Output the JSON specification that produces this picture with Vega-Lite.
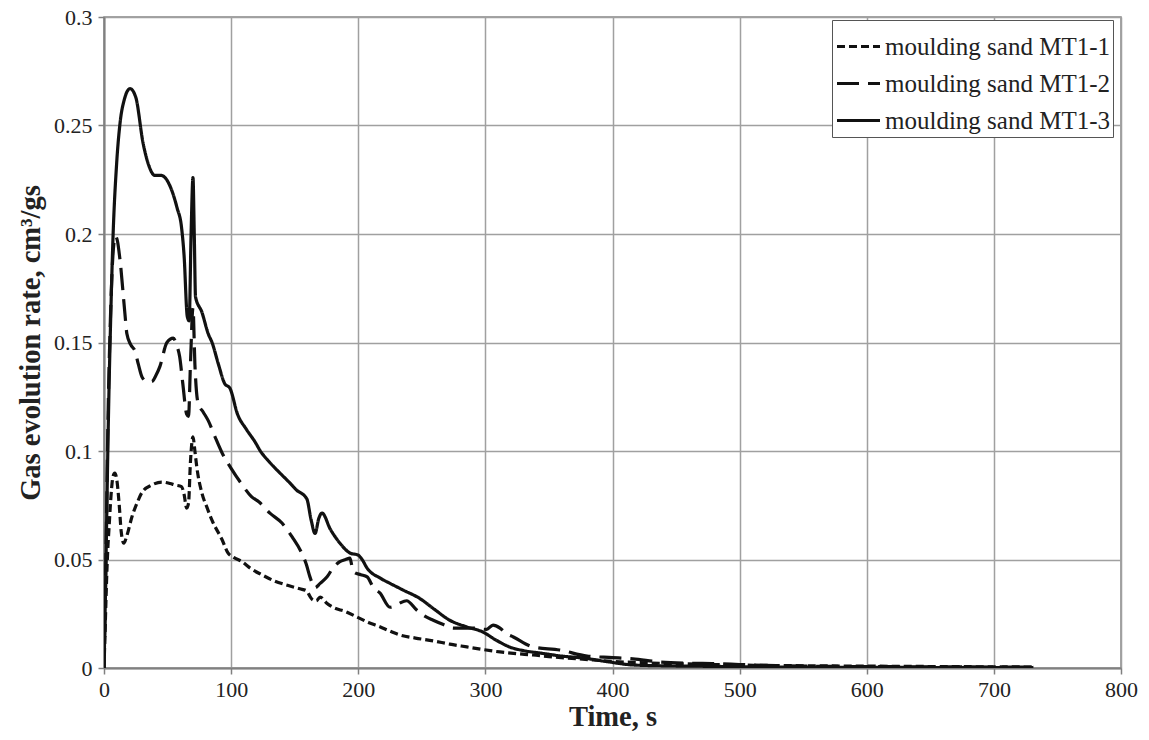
{
  "$schema": "https://vega.github.io/schema/vega-lite/v6.json",
  "width": 1017,
  "height": 651,
  "autosize": {"type": "none"},
  "padding": {"left": 104, "top": 17, "right": 28, "bottom": 72},
  "background": "white",
  "config": {
    "font": "Liberation Serif",
    "view": {"stroke": "#888", "strokeWidth": 1.5},
    "axis": {
      "labelFont": "Liberation Serif",
      "labelFontSize": 22,
      "labelColor": "#222",
      "titleFont": "Liberation Serif",
      "titleFontSize": 28.5,
      "titleFontWeight": "bold",
      "titleColor": "#222",
      "gridColor": "#a0a0a0",
      "gridWidth": 1.5,
      "gridOpacity": 1,
      "domainColor": "#808080",
      "domainWidth": 2,
      "tickColor": "#808080",
      "tickWidth": 1.5,
      "tickSize": 6
    },
    "legend": {
      "labelFont": "Liberation Serif",
      "labelFontSize": 25,
      "labelColor": "#222",
      "labelLimit": 0
    }
  },
  "datasets": {
    "rates": [
      {"t": 0, "r": 0, "s": "moulding sand MT1-1"},
      {"t": 1, "r": 0.02, "s": "moulding sand MT1-1"},
      {"t": 2, "r": 0.04, "s": "moulding sand MT1-1"},
      {"t": 3, "r": 0.055, "s": "moulding sand MT1-1"},
      {"t": 4, "r": 0.065, "s": "moulding sand MT1-1"},
      {"t": 5, "r": 0.075, "s": "moulding sand MT1-1"},
      {"t": 6, "r": 0.083, "s": "moulding sand MT1-1"},
      {"t": 7, "r": 0.088, "s": "moulding sand MT1-1"},
      {"t": 8.5, "r": 0.0898, "s": "moulding sand MT1-1"},
      {"t": 10, "r": 0.087, "s": "moulding sand MT1-1"},
      {"t": 12, "r": 0.075, "s": "moulding sand MT1-1"},
      {"t": 13.5, "r": 0.063, "s": "moulding sand MT1-1"},
      {"t": 15.6, "r": 0.0575, "s": "moulding sand MT1-1"},
      {"t": 18, "r": 0.061, "s": "moulding sand MT1-1"},
      {"t": 22, "r": 0.0697, "s": "moulding sand MT1-1"},
      {"t": 26, "r": 0.076, "s": "moulding sand MT1-1"},
      {"t": 30, "r": 0.081, "s": "moulding sand MT1-1"},
      {"t": 37.5, "r": 0.0843, "s": "moulding sand MT1-1"},
      {"t": 45.5, "r": 0.0857, "s": "moulding sand MT1-1"},
      {"t": 52, "r": 0.085, "s": "moulding sand MT1-1"},
      {"t": 56, "r": 0.0843, "s": "moulding sand MT1-1"},
      {"t": 61, "r": 0.0836, "s": "moulding sand MT1-1"},
      {"t": 63, "r": 0.08, "s": "moulding sand MT1-1"},
      {"t": 65, "r": 0.0737, "s": "moulding sand MT1-1"},
      {"t": 66.5, "r": 0.076, "s": "moulding sand MT1-1"},
      {"t": 68, "r": 0.095, "s": "moulding sand MT1-1"},
      {"t": 70, "r": 0.1065, "s": "moulding sand MT1-1"},
      {"t": 71.5, "r": 0.1, "s": "moulding sand MT1-1"},
      {"t": 73, "r": 0.0926, "s": "moulding sand MT1-1"},
      {"t": 77, "r": 0.0806, "s": "moulding sand MT1-1"},
      {"t": 81, "r": 0.074, "s": "moulding sand MT1-1"},
      {"t": 85, "r": 0.068, "s": "moulding sand MT1-1"},
      {"t": 93, "r": 0.059, "s": "moulding sand MT1-1"},
      {"t": 97.5, "r": 0.053, "s": "moulding sand MT1-1"},
      {"t": 102, "r": 0.051, "s": "moulding sand MT1-1"},
      {"t": 108.5, "r": 0.049, "s": "moulding sand MT1-1"},
      {"t": 115, "r": 0.046, "s": "moulding sand MT1-1"},
      {"t": 124, "r": 0.043, "s": "moulding sand MT1-1"},
      {"t": 134.5, "r": 0.04, "s": "moulding sand MT1-1"},
      {"t": 145, "r": 0.038, "s": "moulding sand MT1-1"},
      {"t": 154, "r": 0.0365, "s": "moulding sand MT1-1"},
      {"t": 159.5, "r": 0.0355, "s": "moulding sand MT1-1"},
      {"t": 162, "r": 0.033, "s": "moulding sand MT1-1"},
      {"t": 164.5, "r": 0.0313, "s": "moulding sand MT1-1"},
      {"t": 167, "r": 0.031, "s": "moulding sand MT1-1"},
      {"t": 170, "r": 0.0327, "s": "moulding sand MT1-1"},
      {"t": 175, "r": 0.03, "s": "moulding sand MT1-1"},
      {"t": 180, "r": 0.028, "s": "moulding sand MT1-1"},
      {"t": 190, "r": 0.026, "s": "moulding sand MT1-1"},
      {"t": 199, "r": 0.0235, "s": "moulding sand MT1-1"},
      {"t": 208, "r": 0.021, "s": "moulding sand MT1-1"},
      {"t": 217, "r": 0.019, "s": "moulding sand MT1-1"},
      {"t": 225, "r": 0.017, "s": "moulding sand MT1-1"},
      {"t": 233, "r": 0.0152, "s": "moulding sand MT1-1"},
      {"t": 245, "r": 0.0138, "s": "moulding sand MT1-1"},
      {"t": 259, "r": 0.0125, "s": "moulding sand MT1-1"},
      {"t": 272, "r": 0.011, "s": "moulding sand MT1-1"},
      {"t": 285.5, "r": 0.0097, "s": "moulding sand MT1-1"},
      {"t": 298, "r": 0.0085, "s": "moulding sand MT1-1"},
      {"t": 311.5, "r": 0.0074, "s": "moulding sand MT1-1"},
      {"t": 325, "r": 0.0066, "s": "moulding sand MT1-1"},
      {"t": 337.5, "r": 0.006, "s": "moulding sand MT1-1"},
      {"t": 350, "r": 0.0052, "s": "moulding sand MT1-1"},
      {"t": 364, "r": 0.0046, "s": "moulding sand MT1-1"},
      {"t": 385, "r": 0.0037, "s": "moulding sand MT1-1"},
      {"t": 400, "r": 0.003, "s": "moulding sand MT1-1"},
      {"t": 420, "r": 0.0025, "s": "moulding sand MT1-1"},
      {"t": 450, "r": 0.002, "s": "moulding sand MT1-1"},
      {"t": 480, "r": 0.0016, "s": "moulding sand MT1-1"},
      {"t": 520, "r": 0.0012, "s": "moulding sand MT1-1"},
      {"t": 560, "r": 0.001, "s": "moulding sand MT1-1"},
      {"t": 620, "r": 0.0008, "s": "moulding sand MT1-1"},
      {"t": 680, "r": 0.0006, "s": "moulding sand MT1-1"},
      {"t": 731, "r": 0.0005, "s": "moulding sand MT1-1"},

      {"t": 0, "r": 0, "s": "moulding sand MT1-2"},
      {"t": 1, "r": 0.03, "s": "moulding sand MT1-2"},
      {"t": 2, "r": 0.07, "s": "moulding sand MT1-2"},
      {"t": 3, "r": 0.11, "s": "moulding sand MT1-2"},
      {"t": 5, "r": 0.16, "s": "moulding sand MT1-2"},
      {"t": 7, "r": 0.19, "s": "moulding sand MT1-2"},
      {"t": 9, "r": 0.199, "s": "moulding sand MT1-2"},
      {"t": 10.5, "r": 0.197, "s": "moulding sand MT1-2"},
      {"t": 12.6, "r": 0.188, "s": "moulding sand MT1-2"},
      {"t": 16.5, "r": 0.163, "s": "moulding sand MT1-2"},
      {"t": 18, "r": 0.154, "s": "moulding sand MT1-2"},
      {"t": 21, "r": 0.149, "s": "moulding sand MT1-2"},
      {"t": 24.4, "r": 0.146, "s": "moulding sand MT1-2"},
      {"t": 27, "r": 0.14, "s": "moulding sand MT1-2"},
      {"t": 30, "r": 0.134, "s": "moulding sand MT1-2"},
      {"t": 34, "r": 0.132, "s": "moulding sand MT1-2"},
      {"t": 37.5, "r": 0.132, "s": "moulding sand MT1-2"},
      {"t": 41, "r": 0.135, "s": "moulding sand MT1-2"},
      {"t": 44, "r": 0.139, "s": "moulding sand MT1-2"},
      {"t": 49.5, "r": 0.15, "s": "moulding sand MT1-2"},
      {"t": 54.5, "r": 0.152, "s": "moulding sand MT1-2"},
      {"t": 57, "r": 0.149, "s": "moulding sand MT1-2"},
      {"t": 59.5, "r": 0.1435, "s": "moulding sand MT1-2"},
      {"t": 62, "r": 0.131, "s": "moulding sand MT1-2"},
      {"t": 65, "r": 0.117, "s": "moulding sand MT1-2"},
      {"t": 66.5, "r": 0.116, "s": "moulding sand MT1-2"},
      {"t": 68, "r": 0.14, "s": "moulding sand MT1-2"},
      {"t": 70, "r": 0.166, "s": "moulding sand MT1-2"},
      {"t": 71.5, "r": 0.14, "s": "moulding sand MT1-2"},
      {"t": 74, "r": 0.122, "s": "moulding sand MT1-2"},
      {"t": 78, "r": 0.118, "s": "moulding sand MT1-2"},
      {"t": 82, "r": 0.114, "s": "moulding sand MT1-2"},
      {"t": 87, "r": 0.107, "s": "moulding sand MT1-2"},
      {"t": 93, "r": 0.099, "s": "moulding sand MT1-2"},
      {"t": 100, "r": 0.092, "s": "moulding sand MT1-2"},
      {"t": 108, "r": 0.085, "s": "moulding sand MT1-2"},
      {"t": 116, "r": 0.079, "s": "moulding sand MT1-2"},
      {"t": 122, "r": 0.0765, "s": "moulding sand MT1-2"},
      {"t": 130.5, "r": 0.0714, "s": "moulding sand MT1-2"},
      {"t": 140, "r": 0.0668, "s": "moulding sand MT1-2"},
      {"t": 148, "r": 0.0604, "s": "moulding sand MT1-2"},
      {"t": 155.5, "r": 0.053, "s": "moulding sand MT1-2"},
      {"t": 159, "r": 0.048, "s": "moulding sand MT1-2"},
      {"t": 162, "r": 0.042, "s": "moulding sand MT1-2"},
      {"t": 166, "r": 0.037, "s": "moulding sand MT1-2"},
      {"t": 170, "r": 0.039, "s": "moulding sand MT1-2"},
      {"t": 175.5, "r": 0.042, "s": "moulding sand MT1-2"},
      {"t": 180, "r": 0.046, "s": "moulding sand MT1-2"},
      {"t": 185.5, "r": 0.049, "s": "moulding sand MT1-2"},
      {"t": 190, "r": 0.05, "s": "moulding sand MT1-2"},
      {"t": 193.5, "r": 0.0506, "s": "moulding sand MT1-2"},
      {"t": 195, "r": 0.047, "s": "moulding sand MT1-2"},
      {"t": 197, "r": 0.044, "s": "moulding sand MT1-2"},
      {"t": 202, "r": 0.043, "s": "moulding sand MT1-2"},
      {"t": 207, "r": 0.042, "s": "moulding sand MT1-2"},
      {"t": 212, "r": 0.037, "s": "moulding sand MT1-2"},
      {"t": 217, "r": 0.0346, "s": "moulding sand MT1-2"},
      {"t": 225, "r": 0.028, "s": "moulding sand MT1-2"},
      {"t": 230, "r": 0.029, "s": "moulding sand MT1-2"},
      {"t": 233, "r": 0.03, "s": "moulding sand MT1-2"},
      {"t": 238, "r": 0.031, "s": "moulding sand MT1-2"},
      {"t": 246, "r": 0.0267, "s": "moulding sand MT1-2"},
      {"t": 252, "r": 0.024, "s": "moulding sand MT1-2"},
      {"t": 259, "r": 0.022, "s": "moulding sand MT1-2"},
      {"t": 267, "r": 0.02, "s": "moulding sand MT1-2"},
      {"t": 275, "r": 0.0184, "s": "moulding sand MT1-2"},
      {"t": 290, "r": 0.0184, "s": "moulding sand MT1-2"},
      {"t": 301, "r": 0.0178, "s": "moulding sand MT1-2"},
      {"t": 306, "r": 0.0198, "s": "moulding sand MT1-2"},
      {"t": 311.5, "r": 0.0184, "s": "moulding sand MT1-2"},
      {"t": 316, "r": 0.016, "s": "moulding sand MT1-2"},
      {"t": 322, "r": 0.0143, "s": "moulding sand MT1-2"},
      {"t": 337.5, "r": 0.0097, "s": "moulding sand MT1-2"},
      {"t": 358.5, "r": 0.0083, "s": "moulding sand MT1-2"},
      {"t": 380, "r": 0.0055, "s": "moulding sand MT1-2"},
      {"t": 400, "r": 0.0048, "s": "moulding sand MT1-2"},
      {"t": 416, "r": 0.0042, "s": "moulding sand MT1-2"},
      {"t": 437, "r": 0.0028, "s": "moulding sand MT1-2"},
      {"t": 460, "r": 0.0022, "s": "moulding sand MT1-2"},
      {"t": 480, "r": 0.002, "s": "moulding sand MT1-2"},
      {"t": 500, "r": 0.0016, "s": "moulding sand MT1-2"},
      {"t": 520, "r": 0.0012, "s": "moulding sand MT1-2"},
      {"t": 560, "r": 0.0008, "s": "moulding sand MT1-2"},
      {"t": 620, "r": 0.0006, "s": "moulding sand MT1-2"},
      {"t": 680, "r": 0.0005, "s": "moulding sand MT1-2"},
      {"t": 731, "r": 0.0004, "s": "moulding sand MT1-2"},

      {"t": 0, "r": 0, "s": "moulding sand MT1-3"},
      {"t": 1, "r": 0.03, "s": "moulding sand MT1-3"},
      {"t": 2, "r": 0.065, "s": "moulding sand MT1-3"},
      {"t": 3, "r": 0.1, "s": "moulding sand MT1-3"},
      {"t": 4, "r": 0.13, "s": "moulding sand MT1-3"},
      {"t": 5, "r": 0.155, "s": "moulding sand MT1-3"},
      {"t": 7, "r": 0.197, "s": "moulding sand MT1-3"},
      {"t": 10, "r": 0.233, "s": "moulding sand MT1-3"},
      {"t": 12.6, "r": 0.251, "s": "moulding sand MT1-3"},
      {"t": 16, "r": 0.262, "s": "moulding sand MT1-3"},
      {"t": 20.5, "r": 0.267, "s": "moulding sand MT1-3"},
      {"t": 25, "r": 0.263, "s": "moulding sand MT1-3"},
      {"t": 30.7, "r": 0.242, "s": "moulding sand MT1-3"},
      {"t": 35, "r": 0.232, "s": "moulding sand MT1-3"},
      {"t": 40, "r": 0.227, "s": "moulding sand MT1-3"},
      {"t": 45, "r": 0.227, "s": "moulding sand MT1-3"},
      {"t": 48, "r": 0.226, "s": "moulding sand MT1-3"},
      {"t": 52, "r": 0.222, "s": "moulding sand MT1-3"},
      {"t": 57.5, "r": 0.212, "s": "moulding sand MT1-3"},
      {"t": 61, "r": 0.203, "s": "moulding sand MT1-3"},
      {"t": 63, "r": 0.19, "s": "moulding sand MT1-3"},
      {"t": 65.5, "r": 0.162, "s": "moulding sand MT1-3"},
      {"t": 67, "r": 0.16, "s": "moulding sand MT1-3"},
      {"t": 68.5, "r": 0.2, "s": "moulding sand MT1-3"},
      {"t": 70, "r": 0.226, "s": "moulding sand MT1-3"},
      {"t": 71, "r": 0.2, "s": "moulding sand MT1-3"},
      {"t": 72, "r": 0.171, "s": "moulding sand MT1-3"},
      {"t": 77, "r": 0.164, "s": "moulding sand MT1-3"},
      {"t": 82, "r": 0.154, "s": "moulding sand MT1-3"},
      {"t": 85, "r": 0.15, "s": "moulding sand MT1-3"},
      {"t": 90, "r": 0.14, "s": "moulding sand MT1-3"},
      {"t": 95, "r": 0.131, "s": "moulding sand MT1-3"},
      {"t": 99, "r": 0.129, "s": "moulding sand MT1-3"},
      {"t": 105, "r": 0.117, "s": "moulding sand MT1-3"},
      {"t": 112, "r": 0.11, "s": "moulding sand MT1-3"},
      {"t": 119, "r": 0.104, "s": "moulding sand MT1-3"},
      {"t": 123, "r": 0.1, "s": "moulding sand MT1-3"},
      {"t": 130, "r": 0.095, "s": "moulding sand MT1-3"},
      {"t": 138.5, "r": 0.0898, "s": "moulding sand MT1-3"},
      {"t": 145, "r": 0.086, "s": "moulding sand MT1-3"},
      {"t": 151.5, "r": 0.082, "s": "moulding sand MT1-3"},
      {"t": 159.5, "r": 0.078, "s": "moulding sand MT1-3"},
      {"t": 163, "r": 0.068, "s": "moulding sand MT1-3"},
      {"t": 166, "r": 0.062, "s": "moulding sand MT1-3"},
      {"t": 169, "r": 0.069, "s": "moulding sand MT1-3"},
      {"t": 171.5, "r": 0.0714, "s": "moulding sand MT1-3"},
      {"t": 178, "r": 0.064, "s": "moulding sand MT1-3"},
      {"t": 185.5, "r": 0.0576, "s": "moulding sand MT1-3"},
      {"t": 193.5, "r": 0.053, "s": "moulding sand MT1-3"},
      {"t": 200, "r": 0.052, "s": "moulding sand MT1-3"},
      {"t": 203, "r": 0.05, "s": "moulding sand MT1-3"},
      {"t": 207, "r": 0.046, "s": "moulding sand MT1-3"},
      {"t": 217, "r": 0.0415, "s": "moulding sand MT1-3"},
      {"t": 225, "r": 0.039, "s": "moulding sand MT1-3"},
      {"t": 235, "r": 0.036, "s": "moulding sand MT1-3"},
      {"t": 248.5, "r": 0.032, "s": "moulding sand MT1-3"},
      {"t": 260, "r": 0.027, "s": "moulding sand MT1-3"},
      {"t": 272, "r": 0.022, "s": "moulding sand MT1-3"},
      {"t": 285, "r": 0.019, "s": "moulding sand MT1-3"},
      {"t": 298, "r": 0.0166, "s": "moulding sand MT1-3"},
      {"t": 308, "r": 0.013, "s": "moulding sand MT1-3"},
      {"t": 319, "r": 0.0097, "s": "moulding sand MT1-3"},
      {"t": 330, "r": 0.008, "s": "moulding sand MT1-3"},
      {"t": 343, "r": 0.0069, "s": "moulding sand MT1-3"},
      {"t": 360, "r": 0.0055, "s": "moulding sand MT1-3"},
      {"t": 377, "r": 0.0046, "s": "moulding sand MT1-3"},
      {"t": 395, "r": 0.003, "s": "moulding sand MT1-3"},
      {"t": 416, "r": 0.0014, "s": "moulding sand MT1-3"},
      {"t": 440, "r": 0.001, "s": "moulding sand MT1-3"},
      {"t": 470, "r": 0.0008, "s": "moulding sand MT1-3"},
      {"t": 520, "r": 0.0005, "s": "moulding sand MT1-3"},
      {"t": 600, "r": 0.0003, "s": "moulding sand MT1-3"},
      {"t": 731, "r": 0.0002, "s": "moulding sand MT1-3"}
    ]
  },
  "data": {"name": "rates"},
  "mark": {"type": "line", "color": "#111", "strokeWidth": 3.2, "interpolate": "monotone", "clip": true},
  "encoding": {
    "x": {
      "field": "t",
      "type": "quantitative",
      "title": "Time, s",
      "scale": {"domain": [0, 800], "nice": false, "zero": true},
      "axis": {"values": [0, 100, 200, 300, 400, 500, 600, 700, 800], "labelPadding": 5, "titlePadding": 2, "labelFlush": false}
    },
    "y": {
      "field": "r",
      "type": "quantitative",
      "title": "Gas evolution rate, cm³/gs",
      "scale": {"domain": [0, 0.3], "nice": false},
      "axis": {"values": [0, 0.05, 0.1, 0.15, 0.2, 0.25, 0.3], "format": ".2~f", "labelPadding": 6, "titlePadding": 8, "labelFlush": false}
    },
    "strokeDash": {
      "field": "s",
      "type": "nominal",
      "scale": {
        "domain": ["moulding sand MT1-1", "moulding sand MT1-2", "moulding sand MT1-3"],
        "range": [[8, 4], [22, 9], [1, 0]]
      },
      "legend": {
        "title": null,
        "orient": "none",
        "legendX": 728,
        "legendY": 3,
        "symbolType": "stroke",
        "symbolSize": 1849,
        "symbolStrokeWidth": 3.2,
        "symbolStrokeColor": "#111",
        "labelOffset": 3,
        "rowPadding": 0,
        "padding": 3,
        "strokeColor": "#555",
        "fillColor": "white"
      }
    }
  }
}
